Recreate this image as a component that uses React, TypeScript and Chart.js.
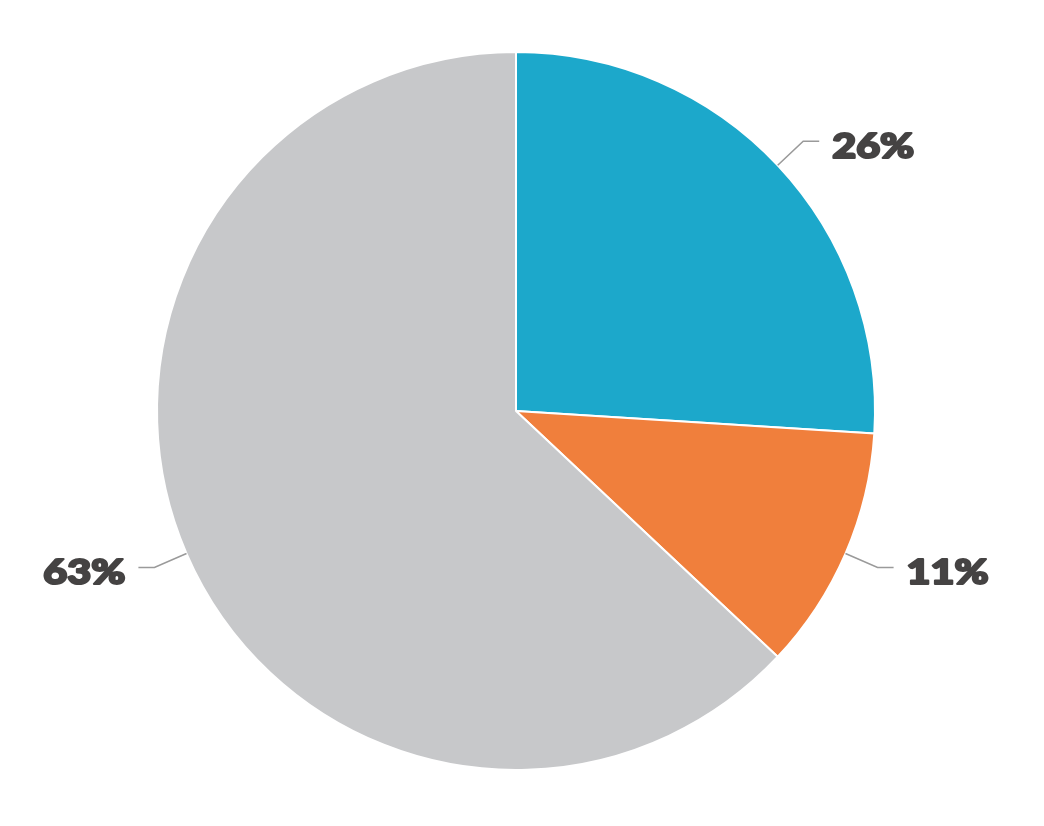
import React, { useEffect, useRef } from "react";
import { Chart, registerables } from "chart.js";

Chart.register(...registerables);

const categories = ["A", "B", "C"];
const values = [26, 11, 63];
const colors = ["#1CA8CB", "#F07F3C", "#C7C8CA"];

const leaderPlugin = {
  id: "leaders",
  afterDatasetsDraw(chart: any) {
    const ctx = chart.ctx;
    const meta = chart.getDatasetMeta(0);
    const total = values.reduce((a, b) => a + b, 0);
    ctx.save();
    meta.data.forEach((arc: any, i: number) => {
      const { x, y, startAngle, endAngle, outerRadius } = arc.getProps(
        ["x", "y", "startAngle", "endAngle", "outerRadius"],
        true
      );
      const mid = (startAngle + endAngle) / 2;
      const cos = Math.cos(mid);
      const sin = Math.sin(mid);
      const x0 = x + cos * outerRadius;
      const y0 = y + sin * outerRadius;
      const r1 = outerRadius + 35;
      const x1 = x + cos * r1;
      const y1 = y + sin * r1;
      const right = cos >= 0;
      const x2 = x1 + (right ? 16 : -16);
      ctx.strokeStyle = "#9A9A9A";
      ctx.lineWidth = 1.6;
      ctx.beginPath();
      ctx.moveTo(x0, y0);
      ctx.lineTo(x1, y1);
      ctx.lineTo(x2, y1);
      ctx.stroke();
      const label = Math.round((values[i] / total) * 100) + "%";
      ctx.save();
      ctx.translate(x2 + (right ? 13 : -13), y1 + 5);
      ctx.scale(1.18, 1);
      ctx.fillStyle = "#454343";
      ctx.strokeStyle = "#454343";
      ctx.lineWidth = 2.2;
      ctx.lineJoin = "round";
      ctx.font = "900 35px Lato";
      ctx.textBaseline = "middle";
      ctx.textAlign = right ? "left" : "right";
      ctx.strokeText(label, 0, 0);
      ctx.fillText(label, 0, 0);
      ctx.restore();
    });
    ctx.restore();
  },
};

export default function App() {
  const ref = useRef<HTMLCanvasElement>(null);
  useEffect(() => {
    if (!ref.current) return;
    const chart = new Chart(ref.current, {
      type: "pie",
      data: {
        labels: categories,
        datasets: [
          {
            data: values,
            backgroundColor: colors,
            borderColor: "#FFFFFF",
            borderWidth: 2,
          },
        ],
      },
      options: {
        responsive: false,
        animation: false,
        radius: 359,
        layout: { padding: { left: 0, right: 12, top: 0, bottom: 4 } },
        plugins: {
          legend: { display: false },
          tooltip: { enabled: false },
        },
      } as any,
      plugins: [leaderPlugin],
    });
    return () => chart.destroy();
  }, []);
  return (
    <div style={{ position: "absolute", left: 0, top: 0, width: 1044, height: 826, background: "#fff" }}>
      <canvas ref={ref} width={1044} height={826} />
    </div>
  );
}
